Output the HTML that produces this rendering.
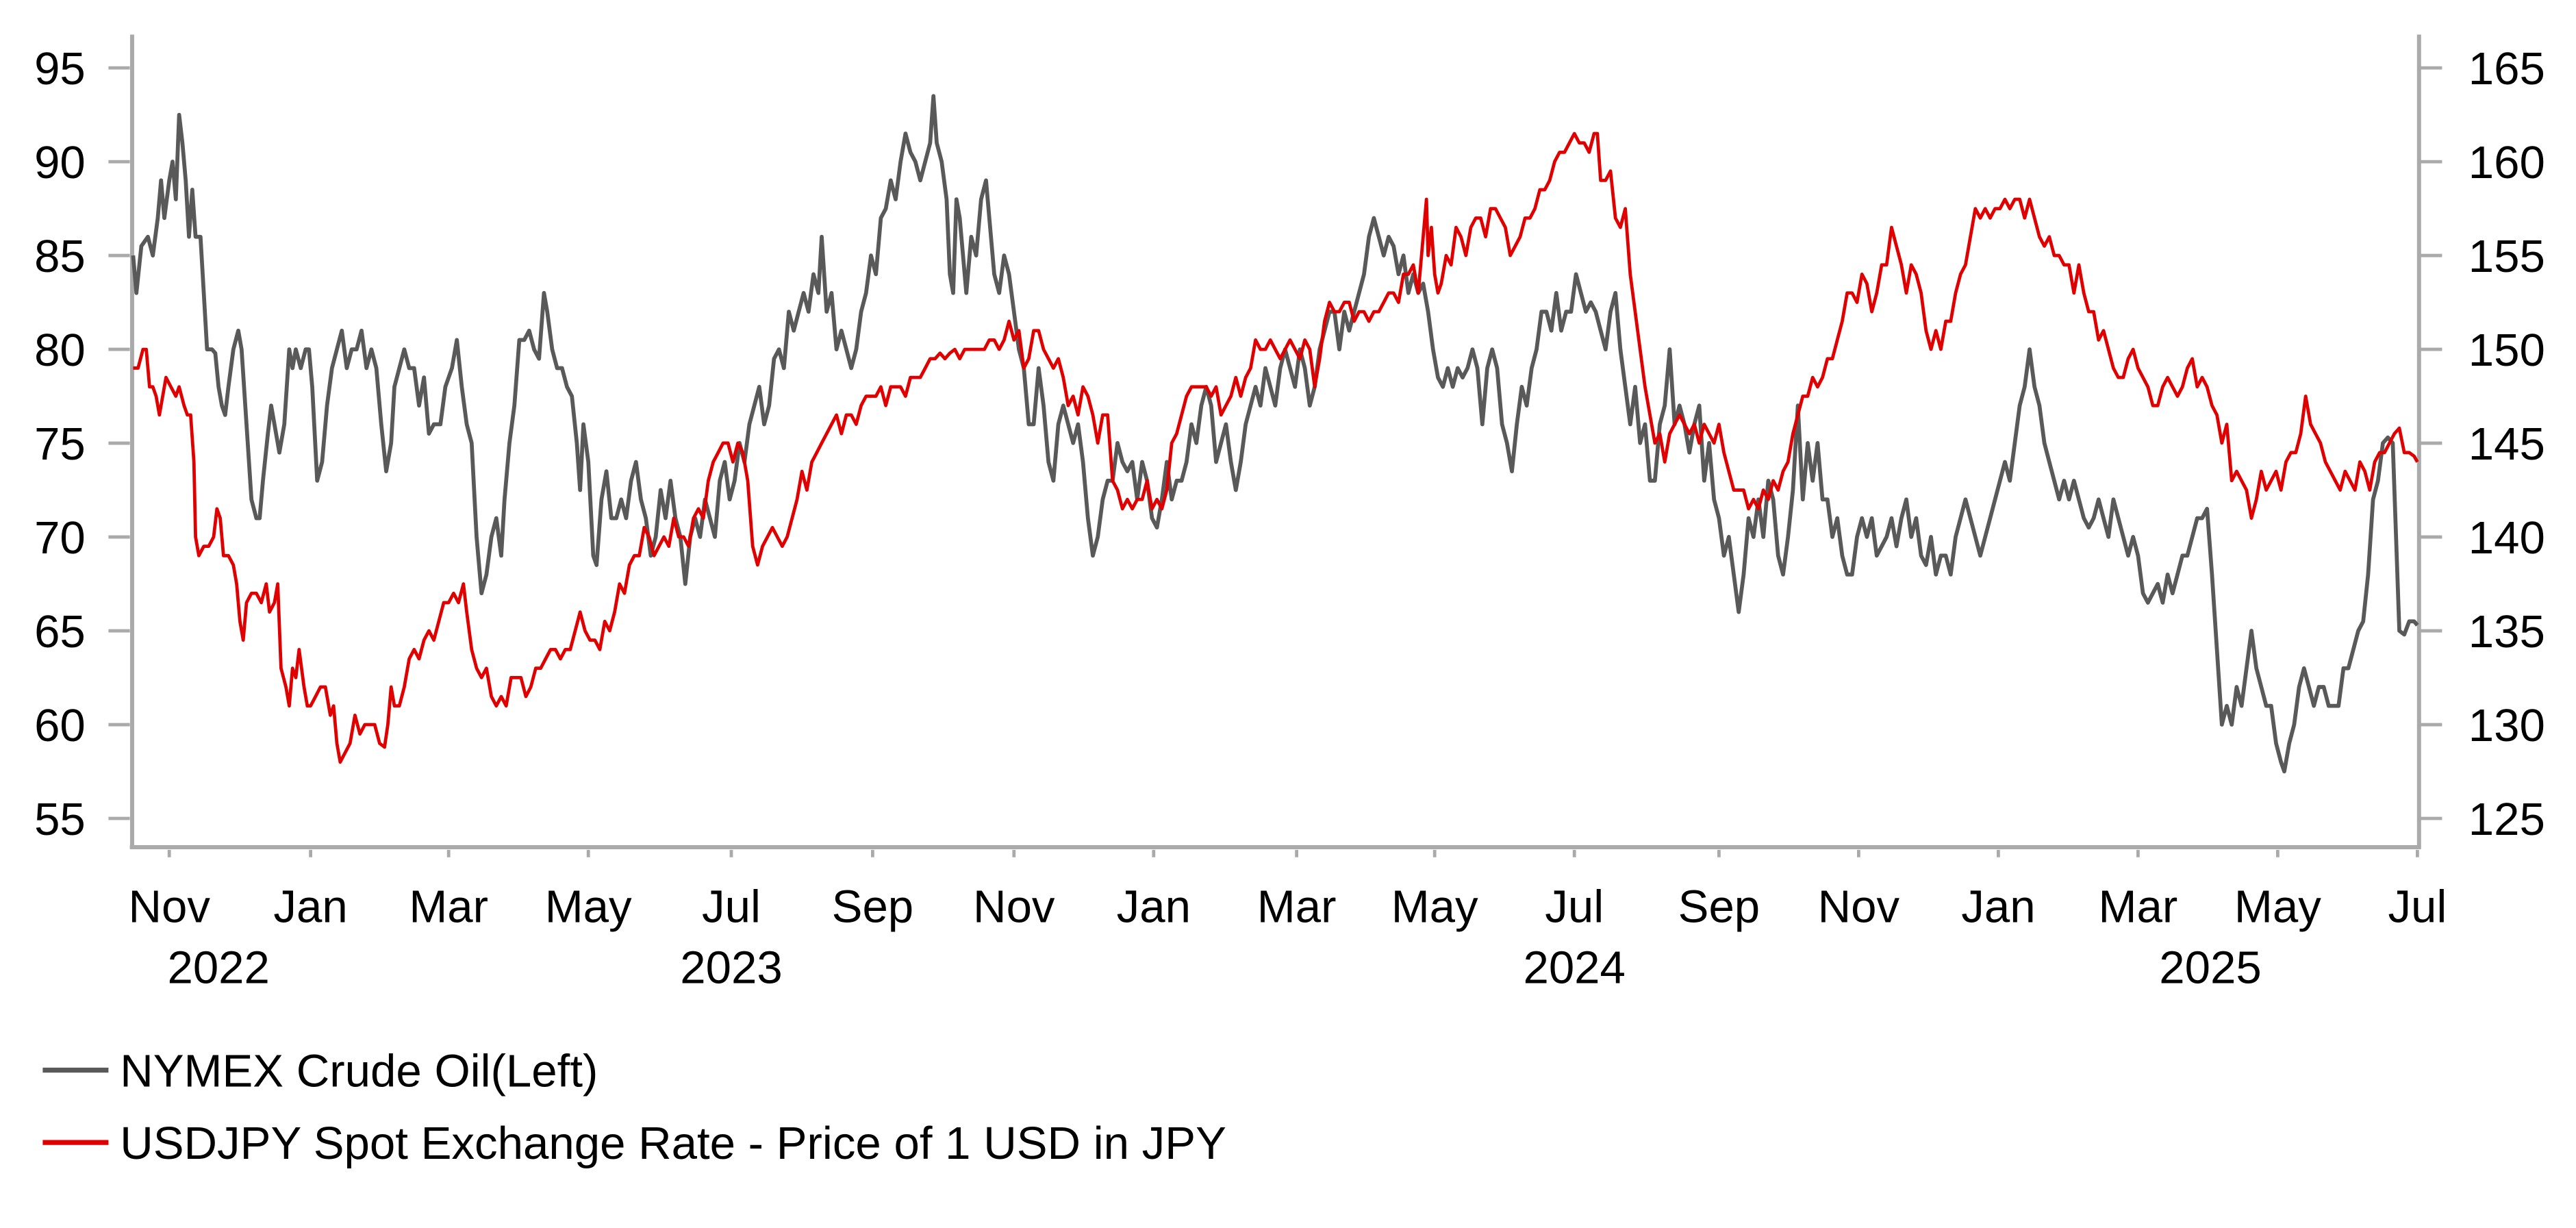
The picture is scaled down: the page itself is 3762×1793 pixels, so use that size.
<!DOCTYPE html>
<html><head><meta charset="utf-8"><style>
html,body{margin:0;padding:0;background:#fff;width:3762px;height:1793px;overflow:hidden}
svg{display:block}
text{font-family:"Liberation Sans",Arial,sans-serif;fill:#000}
</style></head><body>
<svg id="s" width="3762" height="1793" viewBox="0 0 1567.5 747" xmlns="http://www.w3.org/2000/svg">
<g id="axes" stroke="#aaaaaa" stroke-width="2.5" fill="none">
<line x1="80.4" y1="21" x2="80.4" y2="516.5"/>
<line x1="1472" y1="21" x2="1472" y2="516.5"/>
<line x1="79" y1="515.4" x2="1473" y2="515.4"/>
</g>
<g id="ticks" stroke="#aaaaaa" stroke-width="2"></g>
<g id="labels" font-size="28"></g>
<path id="oil" fill="none" stroke="#595959" stroke-width="2.4" stroke-linejoin="round"/>
<path id="jpy" fill="none" stroke="#e00000" stroke-width="2" stroke-linejoin="round"/>
<line x1="26" y1="651" x2="66" y2="651" stroke="#595959" stroke-width="3"/>
<line x1="26" y1="695" x2="66" y2="695" stroke="#e00000" stroke-width="3"/>
<text x="73" y="661" font-size="28">NYMEX Crude Oil(Left)</text>
<text x="73" y="705" font-size="28">USDJPY Spot Exchange Rate - Price of 1 USD in JPY</text>
</svg>
<script>
var NS="http://www.w3.org/2000/svg";
function el(p,t,a,txt){var e=document.createElementNS(NS,t);for(var k in a)e.setAttribute(k,a[k]);if(txt)e.textContent=txt;p.appendChild(e);return e;}
var T=document.getElementById('ticks'),L=document.getElementById('labels');
for(var i=0;i<9;i++){var y=41.25+i*57.08;
el(T,'line',{x1:66,y1:y,x2:79,y2:y});el(T,'line',{x1:1473,y1:y,x2:1486,y2:y});
el(L,'text',{x:52,y:y+10,'text-anchor':'end'},String(95-5*i));
el(L,'text',{x:1502,y:y+10},String(165-5*i));}
var months=[[103,'Nov'],[189,'Jan'],[273,'Mar'],[358,'May'],[445,'Jul'],[531,'Sep'],[617,'Nov'],[702,'Jan'],[789,'Mar'],[873,'May'],[958,'Jul'],[1046,'Sep'],[1131,'Nov'],[1216,'Jan'],[1301,'Mar'],[1386,'May'],[1471,'Jul']];
months.forEach(function(m){el(T,'line',{x1:m[0],y1:517,x2:m[0],y2:521.5});el(L,'text',{x:m[0],y:561,'text-anchor':'middle'},m[1]);});
[[133,'2022'],[445,'2023'],[958,'2024'],[1345,'2025']].forEach(function(m){el(L,'text',{x:m[0],y:598,'text-anchor':'middle'},m[1]);});
var oil=[81,85,83,83,86,85.5,90,86,93,85,96,87,98,89,100,87,103,89,105,90,107,88,109,92.5,111,91,113,89,115,86,117,88.5,119,86,122,86,124,83,126,80,129,80,131,79.8,133,78,135,77,137,76.5,139,78,142,80,145,81,147,80,150,76,153,72,156,71,158,71,160,73,163,75.5,165,77,167,76,170,74.5,173,76,176,80,178,79,180,80,183,79,186,80,188,80,190,78,193,73,196,74,199,77,202,79,205,80,208,81,211,79,214,80,217,80,220,81,223,79,226,80,229,79,232,76,235,73.5,238,75,240,78,243,79,246,80,249,79,252,79,255,77,258,78.5,261,75.5,264,76,268,76,271,78,275,79,278,80.5,281,78,284,76,287,75,290,70,293,67,296,68,299,70,302,71,305,69,307,72,310,75,313,77,316,80.5,319,80.5,322,81,325,80,328,79.5,331,83,333,82,336,80,339,79,342,79,345,78,348,77.5,351,75,353,72.5,355,76,358,74,361,69,363,68.5,366,72,369,73.5,372,71,375,71,378,72,381,71,384,73,387,74,390,72,393,71,396,69,399,70,402,72.5,405,71,408,73,411,71,414,70,417,67.5,420,70,423,71,426,70,429,72,432,71,435,70,438,73,441,74,444,72,447,73,450,75,453,74,456,76,459,77,462,78,465,76,468,77,471,79.5,474,80,477,79,480,82,483,81,486,82,489,83,492,82,495,84,498,83,500,86,503,82,506,83,509,80,512,81,515,80,518,79,521,80,524,82,527,83,530,85,533,84,536,87,539,87.5,542,89,545,88,548,90,551,91.5,554,90.5,557,90,560,89,563,90,566,91,568,93.5,570,91,573,90,576,88,578,84,580,83,582,88,584,87,586,85,588,83,591,86,594,85,597,88,600,89,602,87,605,84,608,83,611,85,614,84,617,82,620,80,623,79,626,76,629,76,632,79,635,77,638,74,641,73,644,76,647,77,650,76,653,75,656,76,659,74,662,71,665,69,668,70,671,72,674,73,677,73,680,75,683,74,686,73.5,689,74,692,72,695,74,698,73,701,71,704,70.5,707,72,710,74,713,72,716,73,719,73,722,74,725,76,728,75,731,77,734,78,737,77,740,74,743,75,746,76,749,74,752,72.5,755,74,758,76,761,77,764,78,767,77,770,79,773,78,776,77,779,79,782,80,785,79,788,78,791,80,794,79,797,77,800,78,803,80,806,81,809,82,812,82,815,80,818,82,821,81,824,82,827,83,830,84,833,86,836,87,839,86,842,85,845,86,848,85.5,851,84,854,85,857,83,860,84,863,83,866,83.5,869,82,872,80,875,78.5,878,78,881,79,884,78,887,79,890,78.5,893,79,896,80,899,79,902,76,905,79,908,80,911,79,914,76,917,75,920,73.5,923,76,926,78,929,77,932,79,935,80,938,82,941,82,944,81,947,83,950,81,953,82,956,82,959,84,962,83,965,82,968,82.5,971,82,974,81,977,80,980,82,983,83,986,80,989,78,992,76,995,78,998,75,1001,76,1004,73,1007,73,1010,76,1013,77,1016,80,1019,76,1022,77,1025,76,1028,74.5,1031,76,1034,77,1037,73,1040,75,1043,72,1046,71,1049,69,1052,70,1055,68,1058,66,1061,68,1064,71,1067,70,1070,72,1073,70,1076,73,1079,72,1082,69,1085,68,1088,70,1091,72.5,1094,77,1097,72,1100,75,1103,73,1106,75,1109,72,1112,72,1115,70,1118,71,1121,69,1124,68,1127,68,1130,70,1133,71,1136,70,1139,71,1142,69,1145,69.5,1148,70,1151,71,1154,69.5,1157,71,1160,72,1163,70,1166,71,1169,69,1172,68.5,1175,70,1178,68,1181,69,1184,69,1187,68,1190,70,1193,71,1196,72,1199,71,1202,70,1205,69,1208,70,1211,71,1214,72,1217,73,1220,74,1223,73,1226,75,1229,77,1232,78,1235,80,1238,78,1241,77,1244,75,1247,74,1250,73,1253,72,1256,73,1259,72,1262,73,1265,72,1268,71,1271,70.5,1274,71,1277,72,1280,71,1283,70,1286,72,1289,71,1292,70,1295,69,1298,70,1301,69,1304,67,1307,66.5,1310,67,1313,67.5,1316,66.5,1319,68,1322,67,1325,68,1328,69,1331,69,1334,70,1337,71,1340,71,1343,71.5,1346,68,1349,64,1352,60,1355,61,1358,60,1361,62,1364,61,1367,63,1370,65,1373,63,1376,62,1379,61,1382,61,1385,59,1388,58,1390,57.5,1393,59,1396,60,1399,62,1402,63,1405,62,1408,61,1411,62,1414,62,1417,61,1420,61,1423,61,1426,63,1429,63,1432,64,1435,65,1438,65.5,1441,68,1444,72,1447,73,1450,75,1453,75.3,1456,75,1458,70,1460,65,1463,64.8,1466,65.5,1469,65.5,1471,65.3];
var jpy=[81,149,84,149,87,150,89,150,91,148,93,148,95,147.5,97,146.5,99,147.5,101,148.5,104,148,107,147.5,109,148,112,147,114,146.5,116,146.5,118,144,119,140,121,139,124,139.5,127,139.5,130,140,132,141.5,134,141,136,139,139,139,142,138.5,144,137.5,146,135.5,148,134.5,150,136.5,153,137,156,137,159,136.5,162,137.5,164,136,167,136.5,169,137.5,171,133,174,132,176,131,178,133,180,132.5,182,134,185,132,187,131,189,131,192,131.5,195,132,198,132,201,130.5,203,131,205,129,207,128,210,128.5,213,129,216,130.5,219,129.5,222,130,225,130,228,130,231,129,234,128.8,236,130,238,132,240,131,243,131,246,132,249,133.5,252,134,255,133.5,258,134.5,261,135,264,134.5,267,135.5,270,136.5,273,136.5,276,137,279,136.5,282,137.5,284,136,287,134,290,133,293,132.5,296,133,299,131.5,302,131,305,131.5,308,131,311,132.5,314,132.5,317,132.5,320,131.5,323,132,326,133,329,133,332,133.5,335,134,338,134,341,133.5,344,134,347,134,350,135,353,136,356,135,359,134.5,362,134.5,365,134,368,135.5,371,135,374,136,377,137.5,380,137,383,138.5,386,139,389,139,392,140.5,395,140,398,139,401,139.5,404,140,407,139.5,410,141,413,140,416,140,419,139.5,422,141,425,141.5,428,141,431,143,434,144,437,144.5,440,145,443,145,446,144,449,145,452,144.5,455,143,458,139.5,461,138.5,464,139.5,467,140,470,140.5,473,140,476,139.5,479,140,482,141,485,142,488,143.5,491,142.5,494,144,497,144.5,500,145,503,145.5,506,146,509,146.5,512,145.5,515,146.5,518,146.5,521,146,524,147,527,147.5,530,147.5,533,147.5,536,148,539,147,542,148,545,148,548,148,551,147.5,554,148.5,557,148.5,560,148.5,563,149,566,149.5,569,149.5,572,149.8,575,149.5,578,149.8,581,150,584,149.5,587,150,590,150,593,150,596,150,599,150,602,150.5,605,150.5,608,150,611,150.5,614,151.5,617,150.5,620,151,623,149,626,149.5,629,151,632,151,635,150,638,149.5,641,149,644,149.5,647,148.5,650,147,653,147.5,656,146.5,659,148,662,147.5,665,146.5,668,145,671,146.5,674,146.5,677,143,680,142.5,683,141.5,686,142,689,141.5,692,142,695,142,698,143,701,141.5,704,142,707,141.5,710,142.5,713,145,716,145.5,719,146.5,722,147.5,725,148,728,148,731,148,734,148,737,147.5,740,148,743,146.5,746,147,749,147.5,752,148.5,755,147.5,758,148.5,761,149,764,150.5,767,150,770,150,773,150.5,776,150,779,149.5,782,150,785,150.5,788,150,791,149.5,794,150.5,797,150,800,148,803,149.5,806,151.5,809,152.5,812,152,815,152,818,152.5,821,152.5,824,151.5,827,152,830,152,833,151.5,836,152,839,152,842,152.5,845,153,848,153,851,152.5,854,154,857,154,860,154.5,863,153,866,156,868,158,869,155,871,156.5,873,154,875,153,877,153.5,880,155,883,154.5,886,156.5,889,156,892,155,895,156.5,898,157,901,157,904,156,907,157.5,910,157.5,913,157,916,156.5,919,155,922,155.5,925,156,928,157,931,157,934,157.5,937,158.5,940,158.5,943,159,946,160,949,160.5,952,160.5,955,161,958,161.5,961,161,964,161,967,160.5,970,161.5,972,161.5,974,159,977,159,980,159.5,983,157,986,156.5,989,157.5,992,154,995,152,998,150,1001,148,1004,146.5,1007,145,1010,145.5,1013,144,1016,145.5,1019,146,1022,146.5,1025,146,1028,145.5,1031,146,1034,145,1037,146,1040,145.5,1043,145,1046,146,1049,144.5,1052,143.5,1055,142.5,1058,142.5,1061,142.5,1064,141.5,1067,142,1070,141.5,1073,142.5,1076,142,1079,143,1082,142.5,1085,143.5,1088,144,1091,145.5,1094,146.5,1097,147.5,1100,147.5,1103,148.5,1106,148,1109,148.5,1112,149.5,1115,149.5,1118,150.5,1121,151.5,1124,153,1127,153,1130,152.5,1133,154,1136,153.5,1139,152,1142,153,1145,154.5,1148,154.5,1151,156.5,1154,155.5,1157,154.5,1160,153,1163,154.5,1166,154,1169,153,1172,151,1175,150,1178,151,1181,150,1184,151.5,1187,151.5,1190,153,1193,154,1196,154.5,1199,156,1202,157.5,1205,157,1208,157.5,1211,157,1214,157.5,1217,157.5,1220,158,1223,157.5,1226,158,1229,158,1232,157,1235,158,1238,157,1241,156,1244,155.5,1247,156,1250,155,1253,155,1256,154.5,1259,154.5,1262,153,1265,154.5,1268,153,1271,152,1274,152,1277,150.5,1280,151,1283,150,1286,149,1289,148.5,1292,148.5,1295,149.5,1298,150,1301,149,1304,148.5,1307,148,1310,147,1313,147,1316,148,1319,148.5,1322,148,1325,147.5,1328,148,1331,149,1334,149.5,1337,148,1340,148.5,1343,148,1346,147,1349,146.5,1352,145,1355,146,1358,143,1361,143.5,1364,143,1367,142.5,1370,141,1373,142,1376,143.5,1379,142.5,1382,143,1385,143.5,1388,142.5,1391,144,1394,144.5,1397,144.5,1400,145.5,1403,147.5,1406,146,1409,145.5,1412,145,1415,144,1418,143.5,1421,143,1424,142.5,1427,143.5,1430,143,1433,142.5,1436,144,1439,143.5,1442,142.5,1445,144,1448,144.5,1451,144.5,1454,145,1457,145.5,1460,145.8,1463,144.5,1466,144.5,1469,144.3,1471,144];
function path(a,top){var d='';for(var i=0;i<a.length;i+=2){var y=41.25+(top-a[i+1])*11.415;d+=(i?'L':'M')+a[i]+','+y.toFixed(1);}return d;}
document.getElementById('oil').setAttribute('d',path(oil,95));
document.getElementById('jpy').setAttribute('d',path(jpy,165));
</script>
</body></html>
